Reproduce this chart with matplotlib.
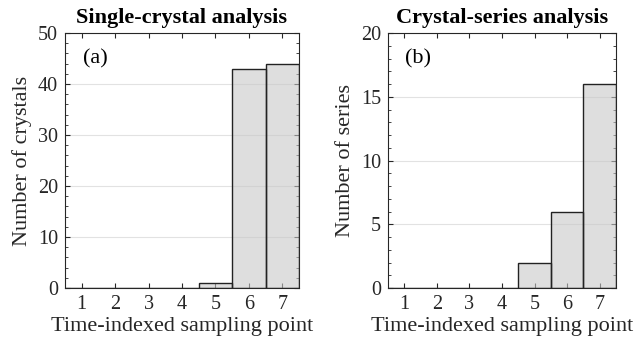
import numpy as np
import matplotlib.pyplot as plt
from matplotlib.ticker import MultipleLocator

plt.rcParams['font.family'] = ['Liberation Serif', 'DejaVu Serif']

points = [1, 2, 3, 4, 5, 6, 7]
crystals = [0, 0, 0, 0, 1, 43, 44]
series = [0, 0, 0, 0, 2, 6, 16]

fig = plt.figure(figsize=(6.36, 3.4), dpi=100)
ax1 = fig.add_axes([65/636, 1-288/340, 234/636, 255/340])
ax2 = fig.add_axes([388/636, 1-288/340, 228/636, 255/340])

def draw(ax, vals, ymax, major, minor, title, ylab, tag):
    ax.bar(points, vals, width=1.0, facecolor='#c8c8c8', alpha=0.6, edgecolor='none', zorder=2)
    ax.bar(points, vals, width=1.0, facecolor='none', edgecolor='#222222', linewidth=1.0, zorder=3)
    ax.set_xlim(0.5, 7.5)
    ax.set_ylim(0, ymax)
    ax.set_xticks(points)
    ax.yaxis.set_major_locator(MultipleLocator(major))
    ax.yaxis.set_minor_locator(MultipleLocator(minor))
    ax.grid(axis='y', color='#e2e2e2', linewidth=0.8, zorder=0)
    ax.set_axisbelow(True)
    ax.tick_params(which='both', direction='in', top=True, right=True, labelsize=14.5, colors='#262626')
    ax.tick_params(which='major', length=3.5, pad=5)
    ax.tick_params(which='minor', length=2, top=False)
    for s in ax.spines.values():
        s.set_color('#262626')
        s.set_linewidth(0.8)
    ax.set_title(title, fontsize=16, fontweight='bold', pad=7)
    ax.set_xlabel('Time-indexed sampling point', fontsize=16, color='#262626', labelpad=2)
    ax.set_ylabel(ylab, fontsize=16, color='#262626', labelpad=4)
    ax.text(0.075, 0.9, tag, transform=ax.transAxes, fontsize=16, va='center')

draw(ax1, crystals, 50, 10, 2, 'Single-crystal analysis', 'Number of crystals', '(a)')
draw(ax2, series, 20, 5, 1, 'Crystal-series analysis', 'Number of series', '(b)')

fig.savefig('out.png', dpi=100)
